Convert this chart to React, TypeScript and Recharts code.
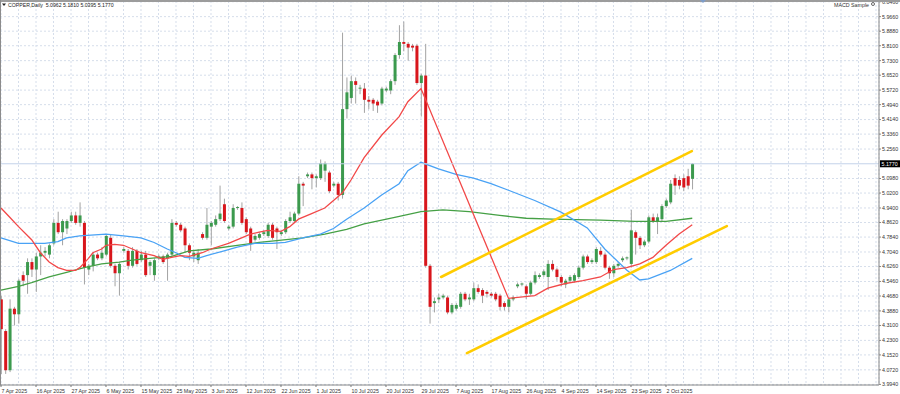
import React from 'react';
import { ComposedChart, Bar, Line, XAxis, YAxis, CartesianGrid, ReferenceLine } from 'recharts';

// one bar per session, 6 per week (Sunday session included), bar 0 = 7 Apr 2025
const dateLabels = [
  '7 Apr 2025', '16 Apr 2025', '27 Apr 2025', '6 May 2025', '15 May 2025', '25 May 2025',
  '3 Jun 2025', '12 Jun 2025', '22 Jun 2025', '1 Jul 2025', '10 Jul 2025', '20 Jul 2025',
  '29 Jul 2025', '7 Aug 2025', '17 Aug 2025', '26 Aug 2025', '4 Sep 2025', '14 Sep 2025',
  '23 Sep 2025', '2 Oct 2025',
];

const priceTicks = [
  6.046, 5.966, 5.888, 5.81, 5.73, 5.652, 5.572, 5.494, 5.414, 5.336, 5.256, 5.098, 5.02,
  4.94, 4.862, 4.784, 4.704, 4.626, 4.546, 4.468, 4.388, 4.31, 4.23, 4.152, 4.072, 3.994,
];

const lastPrice = 5.177;

// open, high, low, close
const ohlc: [number, number, number, number][] = [
  [4.45, 4.47, 4.05, 4.29], [4.28, 4.29, 4.05, 4.07], [4.07, 4.45, 4.06, 4.40], [4.40, 4.41, 4.31, 4.37],
  [4.37, 4.56, 4.32, 4.55], [4.58, 4.60, 4.52, 4.55], [4.58, 4.67, 4.48, 4.65], [4.65, 4.67, 4.57, 4.61],
  [4.61, 4.70, 4.49, 4.68], [4.68, 4.74, 4.58, 4.70], [4.70, 4.73, 4.68, 4.71], [4.69, 4.75, 4.67, 4.74],
  [4.75, 4.88, 4.74, 4.86], [4.86, 4.92, 4.80, 4.81], [4.81, 4.88, 4.74, 4.87], [4.83, 4.88, 4.80, 4.87],
  [4.87, 4.92, 4.86, 4.90], [4.90, 4.92, 4.85, 4.86], [4.86, 4.97, 4.84, 4.90], [4.86, 4.87, 4.53, 4.62],
  [4.61, 4.64, 4.58, 4.63], [4.63, 4.70, 4.60, 4.69], [4.69, 4.70, 4.66, 4.67], [4.67, 4.73, 4.66, 4.70],
  [4.69, 4.80, 4.68, 4.79], [4.78, 4.80, 4.62, 4.63], [4.63, 4.64, 4.52, 4.59], [4.59, 4.65, 4.47, 4.64],
  [4.71, 4.73, 4.70, 4.72], [4.71, 4.72, 4.61, 4.63], [4.63, 4.73, 4.62, 4.71], [4.71, 4.72, 4.63, 4.64],
  [4.66, 4.71, 4.65, 4.69], [4.69, 4.71, 4.57, 4.58], [4.63, 4.66, 4.58, 4.65], [4.58, 4.67, 4.55, 4.66],
  [4.67, 4.69, 4.66, 4.68], [4.68, 4.69, 4.64, 4.65], [4.67, 4.70, 4.55, 4.69], [4.69, 4.88, 4.68, 4.86],
  [4.86, 4.87, 4.84, 4.85], [4.85, 4.86, 4.81, 4.82], [4.83, 4.84, 4.70, 4.74], [4.74, 4.75, 4.66, 4.70],
  [4.68, 4.71, 4.65, 4.70], [4.66, 4.72, 4.64, 4.70], [4.80, 4.81, 4.77, 4.78], [4.78, 4.94, 4.77, 4.85],
  [4.84, 4.87, 4.74, 4.86], [4.85, 4.90, 4.84, 4.88], [4.88, 5.06, 4.87, 4.91], [4.96, 4.99, 4.86, 4.87],
  [4.83, 4.85, 4.82, 4.84], [4.84, 4.96, 4.83, 4.94], [4.94, 4.95, 4.93, 4.945], [4.94, 4.97, 4.85, 4.86],
  [4.88, 4.89, 4.80, 4.81], [4.83, 4.84, 4.71, 4.75], [4.77, 4.80, 4.76, 4.79], [4.78, 4.81, 4.77, 4.80],
  [4.80, 4.82, 4.79, 4.81], [4.79, 4.86, 4.78, 4.85], [4.85, 4.86, 4.77, 4.78], [4.83, 4.84, 4.72, 4.81],
  [4.80, 4.82, 4.79, 4.81], [4.81, 4.88, 4.80, 4.87], [4.87, 4.92, 4.86, 4.89], [4.87, 4.92, 4.86, 4.91],
  [4.91, 5.11, 4.90, 5.07], [5.07, 5.08, 4.95, 5.06], [5.11, 5.13, 5.10, 5.12], [5.12, 5.13, 5.04, 5.10],
  [5.10, 5.12, 5.05, 5.11], [5.10, 5.20, 5.09, 5.18], [5.14, 5.19, 5.08, 5.18], [5.13, 5.14, 5.02, 5.03],
  [5.06, 5.08, 5.05, 5.07], [5.07, 5.08, 4.98, 5.01], [5.01, 5.88, 4.99, 5.47], [5.47, 5.64, 5.42, 5.56],
  [5.53, 5.65, 5.50, 5.62], [5.62, 5.64, 5.50, 5.60], [5.58, 5.60, 5.55, 5.585], [5.58, 5.61, 5.45, 5.52],
  [5.52, 5.54, 5.47, 5.51], [5.52, 5.53, 5.46, 5.50], [5.51, 5.52, 5.45, 5.49], [5.50, 5.59, 5.49, 5.58],
  [5.57, 5.59, 5.56, 5.58], [5.57, 5.63, 5.55, 5.62], [5.62, 5.77, 5.60, 5.76], [5.76, 5.92, 5.74, 5.83],
  [5.83, 5.94, 5.78, 5.82], [5.82, 5.83, 5.73, 5.80], [5.81, 5.82, 5.78, 5.80], [5.81, 5.82, 5.60, 5.61],
  [5.61, 5.66, 5.43, 5.65], [5.65, 5.82, 4.62, 4.63], [4.63, 4.64, 4.32, 4.41], [4.43, 4.46, 4.38, 4.44],
  [4.45, 4.48, 4.43, 4.46], [4.46, 4.48, 4.45, 4.47], [4.46, 4.47, 4.37, 4.38], [4.38, 4.43, 4.37, 4.42],
  [4.40, 4.43, 4.39, 4.42], [4.41, 4.49, 4.40, 4.48], [4.48, 4.49, 4.44, 4.45], [4.45, 4.48, 4.42, 4.46],
  [4.45, 4.54, 4.44, 4.51], [4.51, 4.53, 4.48, 4.49], [4.50, 4.51, 4.43, 4.47], [4.49, 4.50, 4.46, 4.48],
  [4.48, 4.49, 4.46, 4.47], [4.48, 4.49, 4.44, 4.45], [4.47, 4.48, 4.39, 4.41], [4.43, 4.44, 4.39, 4.41],
  [4.41, 4.46, 4.38, 4.45], [4.45, 4.47, 4.44, 4.46], [4.52, 4.54, 4.51, 4.53], [4.53, 4.54, 4.52, 4.535],
  [4.52, 4.53, 4.45, 4.48], [4.48, 4.55, 4.47, 4.54], [4.54, 4.60, 4.53, 4.58], [4.57, 4.59, 4.56, 4.58],
  [4.58, 4.61, 4.57, 4.60], [4.57, 4.66, 4.50, 4.64], [4.64, 4.66, 4.60, 4.61], [4.61, 4.62, 4.55, 4.57],
  [4.57, 4.58, 4.52, 4.54], [4.53, 4.56, 4.51, 4.55], [4.55, 4.58, 4.54, 4.57], [4.55, 4.59, 4.54, 4.58],
  [4.57, 4.63, 4.56, 4.62], [4.62, 4.69, 4.61, 4.68], [4.68, 4.69, 4.64, 4.65], [4.65, 4.67, 4.64, 4.66],
  [4.65, 4.73, 4.64, 4.72], [4.71, 4.73, 4.68, 4.69], [4.69, 4.70, 4.61, 4.62], [4.62, 4.63, 4.56, 4.59],
  [4.59, 4.64, 4.57, 4.63], [4.63, 4.65, 4.62, 4.64], [4.66, 4.68, 4.65, 4.67], [4.67, 4.68, 4.66, 4.675],
  [4.64, 4.93, 4.62, 4.82], [4.81, 4.82, 4.69, 4.78], [4.78, 4.79, 4.72, 4.74], [4.74, 4.77, 4.73, 4.76],
  [4.76, 4.90, 4.75, 4.89], [4.89, 4.91, 4.86, 4.87], [4.87, 4.91, 4.80, 4.89], [4.88, 4.96, 4.87, 4.95],
  [4.95, 4.99, 4.94, 4.98], [4.97, 5.09, 4.96, 5.07], [5.10, 5.12, 5.01, 5.06], [5.09, 5.11, 5.04, 5.06],
  [5.10, 5.12, 5.03, 5.05], [5.11, 5.15, 5.04, 5.06], [5.0962, 5.181, 5.0395, 5.177],
];

// moving averages: [bar, price]
const redMa: [number, number][] = [
  [0, 4.94], [2, 4.89], [4, 4.84], [7, 4.77], [9, 4.70], [11, 4.65], [13, 4.62], [15, 4.605],
  [17, 4.605], [18, 4.62], [20, 4.67], [21, 4.70], [23, 4.72], [24, 4.74], [26, 4.745], [28, 4.74],
  [30, 4.72], [32, 4.70], [35, 4.685], [37, 4.665], [39, 4.675], [41, 4.685], [43, 4.68], [46, 4.70],
  [48, 4.72], [52, 4.75], [55, 4.78], [57, 4.80], [59, 4.81], [61, 4.82], [64, 4.815], [66, 4.84],
  [68, 4.88], [71, 4.91], [74, 4.94], [76, 4.98], [78, 5.02], [80, 5.09], [83, 5.21], [87, 5.33],
  [91, 5.43], [93, 5.51], [96, 5.58], [116, 4.455], [122, 4.47], [125, 4.51], [129, 4.535],
  [133, 4.55], [137, 4.57], [140, 4.61], [143, 4.62], [146, 4.64], [149, 4.675], [152, 4.74],
  [155, 4.80], [158, 4.85],
];

const blueMa: [number, number][] = [
  [0, 4.78], [4, 4.75], [10, 4.75], [13, 4.76], [15, 4.78], [18, 4.79], [24, 4.80], [28, 4.79],
  [32, 4.78], [35, 4.755], [38, 4.72], [40, 4.70], [42, 4.675], [45, 4.67], [47, 4.685], [51, 4.71],
  [54, 4.73], [58, 4.75], [62, 4.75], [65, 4.755], [69, 4.78], [73, 4.80], [76, 4.83], [79, 4.88],
  [83, 4.94], [87, 5.01], [91, 5.07], [93, 5.14], [96, 5.185], [100, 5.15], [104, 5.12], [108, 5.10],
  [112, 5.07], [116, 5.035], [122, 4.98], [128, 4.918], [134, 4.833], [138, 4.72], [143, 4.607],
  [146, 4.554], [148, 4.56], [153, 4.605], [158, 4.67],
];

const greenMa: [number, number][] = [
  [0, 4.50], [4, 4.52], [7, 4.54], [11, 4.57], [15, 4.595], [19, 4.62], [23, 4.64], [27, 4.65],
  [30, 4.66], [34, 4.67], [39, 4.68], [43, 4.71], [48, 4.72], [54, 4.74], [59, 4.755], [63, 4.765],
  [69, 4.78], [74, 4.80], [79, 4.825], [83, 4.855], [90, 4.89], [96, 4.92], [101, 4.93], [107, 4.92],
  [114, 4.90], [120, 4.885], [126, 4.88], [137, 4.875], [145, 4.868], [152, 4.868], [158, 4.885],
];

// rising channel drawn by hand on the chart: [bar, price] end points
const channelUpper: [number, number][] = [[100.6, 4.57], [157.9, 5.245]];
const channelLower: [number, number][] = [[106.5, 4.162], [165.9, 4.843]];

const candles = ohlc.map(([open, high, low, close], i) => ({ x: i, open, high, low, close }));
const toPts = (arr: [number, number][]) => arr.map(([x, v]) => ({ x, v }));
const xTicks = Array.from({ length: 51 }, (_, k) => k * 4);

const FONT = '"Liberation Sans", Arial, sans-serif';

const Candle = (props: any) => {
  const { x, y, width, height, payload } = props;
  if (!payload) return null;
  const { open, high, low, close } = payload;
  const top = Math.min(y, y + height);
  const span = Math.abs(height);
  const k = high > low ? span / (high - low) : 0;
  const py = (v: number) => top + (high - v) * k;
  const cx = x + width / 2;
  const up = close >= open;
  const bodyTop = py(Math.max(open, close));
  const bodyH = Math.max(1, Math.abs(py(open) - py(close)));
  return (
    <g>
      <line x1={cx} x2={cx} y1={top} y2={top + span} stroke="#a3a3a3" strokeWidth={1} />
      <rect x={x} y={bodyTop} width={width} height={bodyH} fill={up ? '#3c9a4e' : '#d8161c'} />
    </g>
  );
};

const DateTick = ({ x, y, payload }: any) => {
  const i = payload.value;
  const label = i % 8 === 0 ? dateLabels[i / 8] : undefined;
  if (!label) return null;
  return (
    <g>
      <line x1={x} x2={x} y1={y} y2={y + 2} stroke="#777" />
      <text x={x + 0.5} y={y + 7.5} fontSize={5.3} fill="#333" fontFamily={FONT} textAnchor="start">
        {label}
      </text>
    </g>
  );
};

const PriceTick = ({ x, y, payload }: any) => (
  <text x={x} y={y} dy={1.9} fontSize={5.3} fill="#333" fontFamily={FONT} textAnchor="start">
    {payload.value.toFixed(4)}
  </text>
);

const PriceTag = ({ viewBox }: any) => {
  if (!viewBox) return null;
  const left = viewBox.x + viewBox.width + 1;
  return (
    <g>
      <rect x={left} y={viewBox.y - 3.5} width={21} height={7} fill="#000" />
      <text x={left + 1.5} y={viewBox.y} dy={1.9} fontSize={5.3} fill="#fff" fontFamily={FONT}>
        {lastPrice.toFixed(4)}
      </text>
    </g>
  );
};

export default function App() {
  return (
    <div style={{ position: 'relative', width: 900, height: 394, background: '#fff', overflow: 'hidden' }}>
      <style>{'body{margin:0}'}</style>
      <ComposedChart
        width={900}
        height={394}
        data={candles}
        margin={{ top: 1, right: 0, bottom: 0, left: 0 }}
      >
        <CartesianGrid stroke="#d6deeb" strokeDasharray="2 2" />
        <XAxis
          dataKey="x"
          type="number"
          domain={[-0.2286, 200.686]}
          allowDataOverflow
          ticks={xTicks}
          interval={0}
          height={9}
          tickSize={0}
          tickMargin={0}
          tick={<DateTick />}
          stroke="#888"
        />
        <YAxis
          orientation="right"
          width={21}
          type="number"
          domain={[3.9908, 6.0498]}
          allowDataOverflow
          ticks={priceTicks}
          interval={0}
          tickSize={2}
          tickMargin={1}
          tick={<PriceTick />}
          stroke="#888"
        />
        <Line data={toPts(greenMa)} dataKey="v" type="linear" stroke="#45a045" strokeWidth={1.3} dot={false} isAnimationActive={false} />
        <Line data={toPts(blueMa)} dataKey="v" type="linear" stroke="#49a2f5" strokeWidth={1.3} dot={false} isAnimationActive={false} />
        <Line data={toPts(redMa)} dataKey="v" type="linear" stroke="#f24848" strokeWidth={1.3} dot={false} isAnimationActive={false} />
        <ReferenceLine y={lastPrice} stroke="#c3d2ea" strokeWidth={1} label={<PriceTag />} />
        <Bar
          dataKey={(d: any) => [d.low, d.high]}
          barSize={3}
          shape={<Candle />}
          isAnimationActive={false}
        />
        <ReferenceLine
          segment={channelUpper.map(([x, y]) => ({ x, y }))}
          stroke="#ffcc00"
          strokeWidth={2.6}
          strokeLinecap="round"
        />
        <ReferenceLine
          segment={channelLower.map(([x, y]) => ({ x, y }))}
          stroke="#ffcc00"
          strokeWidth={2.6}
          strokeLinecap="round"
        />
      </ComposedChart>

      {/* frame */}
      <div style={{ position: 'absolute', left: 0, top: 0, width: 900, height: 1.5, background: '#9c9c9c' }} />
      <div style={{ position: 'absolute', left: 0, top: 0, width: 1, height: 385, background: '#8c8c8c' }} />
      <svg style={{ position: 'absolute', left: 700, top: 0 }} width={6} height={4}>
        <polygon points="0,0 6,0 3,3" fill="#7d9cc8" />
      </svg>

      {/* symbol caption */}
      <svg style={{ position: 'absolute', left: 2, top: 2.5 }} width={4} height={4}>
        <polygon points="0,0.5 4,0.5 2,3" fill="#222" />
      </svg>
      <div
        style={{
          position: 'absolute', left: 8, top: 1.5, fontFamily: FONT, fontSize: 5.2, lineHeight: '6px',
          color: '#222', whiteSpace: 'pre',
        }}
      >
        {'COPPER,Daily  5.0962 5.1810 5.0395 5.1770'}
      </div>

      {/* expert label */}
      <div
        style={{
          position: 'absolute', left: 834, top: 2, fontFamily: FONT, fontSize: 5.3, lineHeight: '6px',
          color: '#333', whiteSpace: 'pre',
        }}
      >
        MACD Sample
      </div>
      <div
        style={{
          position: 'absolute', left: 871, top: 1.5, width: 4, height: 4, borderRadius: '50%',
          border: '0.8px solid #666', boxSizing: 'border-box',
        }}
      />
    </div>
  );
}
